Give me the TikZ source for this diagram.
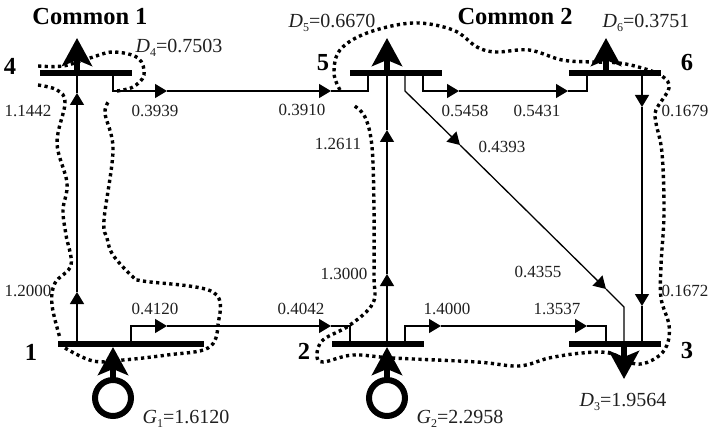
\documentclass[tikz,border=0pt]{standalone}
\usepackage{fontspec}
\setmainfont{Liberation Serif}
\usetikzlibrary{arrows.meta}
\newcommand{\vlab}[2]{\textit{#1}\raisebox{-.22em}{\fontsize{12}{12}\selectfont #2}}
\tikzset{
  x=1pt,y=-1pt,
  bus/.style={fill=black,inner sep=0pt,outer sep=0pt,minimum height=6pt},
  busA/.style={bus,minimum width=92pt},
  busB/.style={bus,minimum width=146pt},
  wire/.style={line width=1.3pt,line join=miter},
  flow/.style={wire,-{Triangle[length=12pt,width=14pt]}},
  load/.style={line width=6pt,-{Stealth[length=28pt,width=30pt,inset=6pt]}},
  gen/.style={circle,draw,line width=6pt,inner sep=0pt,outer sep=0pt,minimum size=36pt},
  val/.style={inner sep=0pt,font=\fontsize{17}{20}\selectfont,text=black!88},
  dem/.style={inner sep=0pt,font=\fontsize{20}{24}\selectfont,text=black!88},
  num/.style={inner sep=0pt,font=\fontsize{24.5}{28}\selectfont\bfseries},
  zone/.style={line width=3.4pt,dash pattern=on 3.2pt off 3.4pt,smooth,tension=.6},
}
\begin{document}
\begin{tikzpicture}
\useasboundingbox (0,0) rectangle (709,430);
% buses
\node[busA] (b4) at (86,73) {};
\node[busB] (b1) at (131,344) {};
\node[busA] (b5) at (396,73) {};
\node[busA] (b2) at (378,344) {};
\node[busA] (b6) at (615,73) {};
\node[busA] (b3) at (615,344) {};
% generators
\node[gen] (g1) at (113,398) {};
\node[gen] (g2) at (387,398) {};
% coordinates of the routes
\coordinate (t4a) at (77,73); \coordinate (t1a) at (77,344);
\coordinate (a14l) at (77,292); \coordinate (a14u) at (77,93);
\coordinate (t4b) at (113,73); \coordinate (a45a) at (167,91); \coordinate (a45b) at (331,91); \coordinate (t5a) at (368,73);
\coordinate (t1b) at (131,344); \coordinate (a12a) at (167,326); \coordinate (a12b) at (331,326); \coordinate (t2a) at (350,344);
\coordinate (t5b) at (423,73); \coordinate (a56a) at (459,91); \coordinate (a56b) at (568,91); \coordinate (t6a) at (587,73);
\coordinate (t2b) at (405,344); \coordinate (a23a) at (441,326); \coordinate (a23b) at (587,326); \coordinate (t3a) at (606,344);
\coordinate (t2c) at (387,344); \coordinate (a25l) at (387,274); \coordinate (a25u) at (387,130); \coordinate (t5c) at (387,73);
\coordinate (t6b) at (642,73); \coordinate (a63u) at (642,107); \coordinate (a63l) at (642,306); \coordinate (t3b) at (642,344);
\coordinate (t5d) at (405,73); \coordinate (k5) at (405,91); \coordinate (a53a) at (460,145); \coordinate (a53b) at (606,289); \coordinate (k3) at (624,307); \coordinate (t3c) at (624,344);
\coordinate (d4) at (77,38); \coordinate (d5) at (387,38); \coordinate (d6) at (606,38); \coordinate (d3) at (624,379);
\coordinate (s4) at (77,73); \coordinate (s5) at (387,73); \coordinate (s6) at (606,73); \coordinate (s3) at (624,344);
\coordinate (i1) at (113,347); \coordinate (i2) at (387,347);
% connectors
\draw[flow] (t1a) -- (a14l); \draw[flow] (a14l) -- (a14u); \draw[wire] (a14u) -- (t4a);
\draw[flow] (t4b) |- (a45a); \draw[flow] (a45a) -- (a45b); \draw[wire] (a45b) -| (t5a);
\draw[flow] (t1b) |- (a12a); \draw[flow] (a12a) -- (a12b); \draw[wire] (a12b) -| (t2a);
\draw[flow] (t5b) |- (a56a); \draw[flow] (a56a) -- (a56b); \draw[wire] (a56b) -| (t6a);
\draw[flow] (t2b) |- (a23a); \draw[flow] (a23a) -- (a23b); \draw[wire] (a23b) -| (t3a);
\draw[flow] (t2c) -- (a25l); \draw[flow] (a25l) -- (a25u); \draw[wire] (a25u) -- (t5c);
\draw[flow] (t6b) -- (a63u); \draw[flow] (a63u) -- (a63l); \draw[wire] (a63l) -- (t3b);
\draw[flow] (t5d) -- (k5) -- (a53a); \draw[flow] (a53a) -- (a53b); \draw[wire] (a53b) -- (k3) -- (t3c);
% loads and generator injections
\draw[load] (s4) -- (d4);
\draw[load] (s5) -- (d5);
\draw[load] (s6) -- (d6);
\draw[load] (s3) -- (d3);
\draw[load] (g1) -- (i1);
\draw[load] (g2) -- (i2);
% zones
\draw[zone] plot coordinates {(38,85) (57,90) (65,103) (57,143) (67,183) (63,210) (66,235) (71,265) (55,283) (52,305) (60,338)};
\draw[zone] plot coordinates {(65,348) (93,361) (123,360) (167,355) (208,348) (218,325) (213,292) (143,281) (133,277) (113,255) (107,238) (104,220) (113,150) (105,113) (110,100)};
\draw[zone] plot coordinates {(117,91) (133,87) (144,75) (138,58) (113,52) (90,58) (63,66) (38,66)};
\draw[zone] plot coordinates {(340,90) (334,73) (340,50) (367,33) (413,23) (453,30) (477,47) (496,52) (529,50) (562,60) (592,62) (619,63) (642,68) (662,76) (669,88) (656,110) (656,123) (662,153) (664,213) (661,265) (661,298) (669,325) (667,345) (656,358) (636,364) (609,353) (582,353) (549,358) (519,366) (477,362) (393,358) (353,355) (323,362) (317,355) (323,340) (350,325) (373,303) (374,275) (374,210) (372,147) (365,117) (353,105)};
% texts
\node[num] (c1) at (90,17) {Common 1};
\node[num] (c2) at (515,17) {Common 2};
\node[num] (n4) at (10,66) {4};
\node[num] (n1) at (31,352) {1};
\node[num] (n5) at (323,63) {5};
\node[num] (n2) at (304,351) {2};
\node[num] (n6) at (687,63) {6};
\node[num] (n3) at (687,351) {3};
\node[dem] (ld4) at (179,48) {\vlab{D}{4}=0.7503};
\node[dem] (ld5) at (332,23) {\vlab{D}{5}=0.6670};
\node[dem] (ld6) at (646,23) {\vlab{D}{6}=0.3751};
\node[dem] (ld3) at (623,402) {\vlab{D}{3}=1.9564};
\node[dem] (lg1) at (186,419) {\vlab{G}{1}=1.6120};
\node[dem] (lg2) at (460,419) {\vlab{G}{2}=2.2958};
\node[val] (f1) at (28,111) {1.1442};
\node[val] (f2) at (155,111) {0.3939};
\node[val] (f3) at (28,291) {1.2000};
\node[val] (f4) at (155,309) {0.4120};
\node[val] (f5) at (302,110) {0.3910};
\node[val] (f6) at (338,144) {1.2611};
\node[val] (f7) at (344,274) {1.3000};
\node[val] (f8) at (301,309) {0.4042};
\node[val] (f9) at (447,309) {1.4000};
\node[val] (f10) at (465,111) {0.5458};
\node[val] (f11) at (537,111) {0.5431};
\node[val] (f12) at (502,147) {0.4393};
\node[val] (f13) at (685,111) {0.1679};
\node[val] (f14) at (538,272) {0.4355};
\node[val] (f15) at (557,309) {1.3537};
\node[val] (f16) at (685,291) {0.1672};
\end{tikzpicture}
\end{document}
